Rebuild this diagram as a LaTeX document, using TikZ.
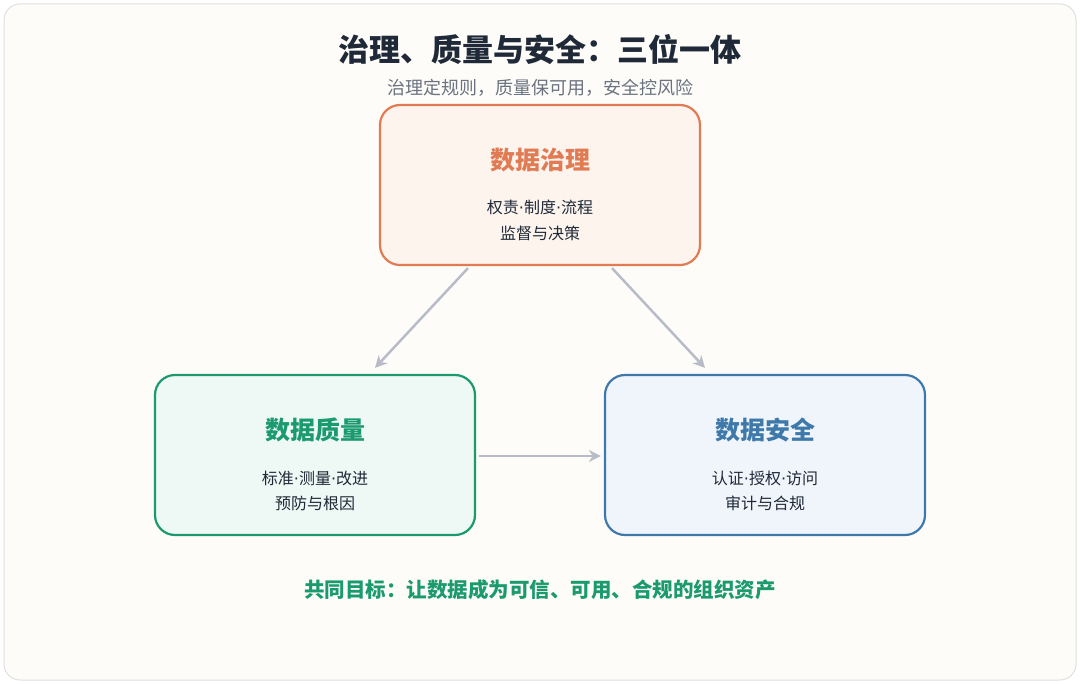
\documentclass[tikz,border=0pt]{standalone}
\usepackage{fontspec}
\setmainfont{Noto Sans CJK SC}
\newfontfamily\dotfont{DejaVu Sans}
\newcommand{\md}{{\dotfont ·}}
\usetikzlibrary{calc,arrows.meta}
\definecolor{govC}{HTML}{E07B54}
\definecolor{govF}{HTML}{FDF4EE}
\definecolor{quaC}{HTML}{1A9A6E}
\definecolor{quaF}{HTML}{EEF8F4}
\definecolor{secC}{HTML}{3F79AA}
\definecolor{secF}{HTML}{EFF5FB}
\definecolor{arrC}{HTML}{B8BCC8}
\definecolor{ttlC}{HTML}{1F2937}
\definecolor{subC}{HTML}{6B7280}
\tikzset{
  box/.style={draw=#1, line width=2.2pt, rounded corners=20pt, minimum width=320pt, minimum height=160pt},
  head/.style={font=\fontsize{25}{28}\selectfont\bfseries, text=#1},
  line/.style={font=\fontsize{16}{19}\selectfont, text=ttlC},
  flow/.style={-{Stealth[length=12pt,width=12pt]}, draw=arrC, line width=2.5pt}
}
\begin{document}
\begin{tikzpicture}[x=1pt,y=-1pt]
  \useasboundingbox (0,0) rectangle (1080,684);
  \draw[draw=gray!25, fill={rgb,255:red,253;green,252;blue,248}, rounded corners=16pt, line width=1pt] (4,4) rectangle (1076,680);
  \node[font=\fontsize{31}{36}\selectfont\bfseries, text=ttlC] (title) at (540,50) {治理、质量与安全：三位一体};
  \node[font=\fontsize{18}{21}\selectfont, text=subC] (sub) at (540,88) {治理定规则，质量保可用，安全控风险};
  % boxes
  \node[box=govC, fill=govF] (gov) at (540,185) {};
  \node[box=quaC, fill=quaF] (qua) at (315,455) {};
  \node[box=secC, fill=secF] (sec) at (765,455) {};
  \node[head=govC] (govT) at (540,160) {数据治理};
  \node[line] (govA) at (540,207) {权责\md 制度\md 流程};
  \node[line] (govB) at (540,233) {监督与决策};
  \node[head=quaC] (quaT) at (315,430) {数据质量};
  \node[line] (quaA) at (315,478) {标准\md 测量\md 改进};
  \node[line] (quaB) at (315,503) {预防与根因};
  \node[head=secC] (secT) at (765,430) {数据安全};
  \node[line] (secA) at (765,478) {认证\md 授权\md 访问};
  \node[line] (secB) at (765,503) {审计与合规};
  % arrows
  \draw[flow] ($(gov.south)+(-72,2)$) -- ($(qua.north)+(60,-6)$);
  \draw[flow] ($(gov.south)+(72,2)$) -- ($(sec.north)+(-60,-6)$);
  \draw[flow] ($(qua.east)+(3,1)$) -- ($(sec.west)+(-3,1)$);
  \node[font=\fontsize{20.5}{24}\selectfont\bfseries, text=quaC] (goal) at (540,590) {共同目标：让数据成为可信、可用、合规的组织资产};
\end{tikzpicture}
\end{document}
